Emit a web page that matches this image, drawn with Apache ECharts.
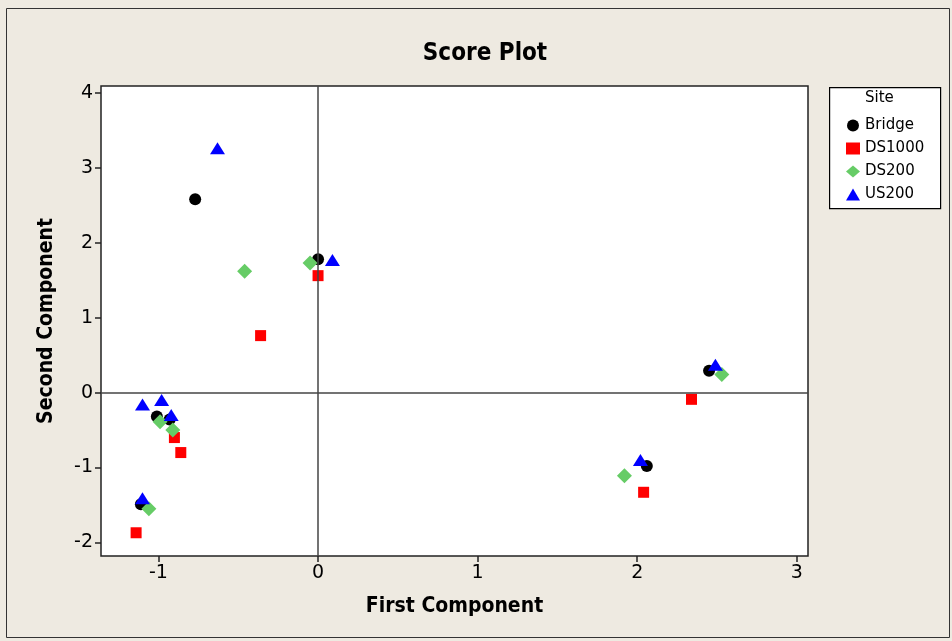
<!DOCTYPE html>
<html>
<head>
<meta charset="utf-8">
<script src="https://cdn.jsdelivr.net/npm/echarts@6/dist/echarts.min.js"></script>
<style>
html,body{margin:0;padding:0;background:#EEEAE1;}
#chart{width:952px;height:641px;}
</style>
</head>
<body>
<div id="chart"></div>
<script>
// Data (First Component, Second Component)
const bridge = [[-0.77,2.58],[0.00,1.78],[2.45,0.29],[2.06,-0.98],[-1.01,-0.32],[-0.93,-0.36],[-1.11,-1.49]];
const ds1000 = [[-0.36,0.76],[0.00,1.56],[2.34,-0.09],[2.04,-1.33],[-0.90,-0.60],[-0.86,-0.80],[-1.14,-1.87]];
const ds200  = [[-0.46,1.62],[-0.05,1.73],[2.53,0.24],[1.92,-1.11],[-0.99,-0.39],[-0.91,-0.50],[-1.06,-1.55]];
const us200  = [[-0.63,3.26],[0.09,1.77],[2.49,0.37],[2.02,-0.90],[-1.10,-0.16],[-0.98,-0.10],[-0.92,-0.30],[-1.10,-1.41]];
const xTicks = [-1,0,1,2,3];
const yTicks = [-2,-1,0,1,2,3,4];
const siteNames = ['Bridge','DS1000','DS200','US200'];

const chart = echarts.init(document.getElementById('chart'));
const tickFont = {fontFamily:'DejaVu Sans', fontSize:19, color:'#000'};
const nameFont = {fontFamily:'DejaVu Sans Condensed', fontWeight:'bold', fontSize:21, color:'#000'};

chart.setOption({
  backgroundColor:'#EEEAE1',
  animation:false,
  title:{text:'Score Plot', left:480, top:37, textAlign:'center',
    textStyle:{fontFamily:'DejaVu Sans Condensed', fontWeight:'bold', fontSize:24, color:'#000'}},
  grid:{left:101, right:144, top:86, bottom:85, show:true, backgroundColor:'#fff', borderColor:'#222', borderWidth:1.5, containLabel:false},
  xAxis:{type:'value', min:-1.36, max:3.07,
    axisLine:{show:false, onZero:false}, splitLine:{show:false},
    axisTick:{show:true, length:6, customValues:xTicks, lineStyle:{color:'#222', width:1.5}},
    axisLabel:Object.assign({margin:8, customValues:xTicks}, tickFont),
    name:'First Component', nameLocation:'middle', nameGap:40, nameTextStyle:nameFont},
  yAxis:{type:'value', min:-2.18, max:4.09,
    axisLine:{show:false, onZero:false}, splitLine:{show:false},
    axisTick:{show:true, length:6, customValues:yTicks, lineStyle:{color:'#222', width:1.5}},
    axisLabel:Object.assign({margin:8, customValues:yTicks}, tickFont),
    name:'Second Component', nameLocation:'middle', nameGap:44, nameTextStyle:nameFont},
  legend:{orient:'vertical', left:841, top:113, itemGap:8, itemWidth:14, itemHeight:12,
    data:siteNames, textStyle:{fontFamily:'DejaVu Sans', fontSize:15, color:'#000'}},
  graphic:[
    {type:'rect', left:4, top:6, shape:{width:943, height:629}, style:{fill:'none', stroke:'#333', lineWidth:1}, z:-10, silent:true},
    {type:'rect', left:829, top:87, shape:{width:111, height:121}, style:{fill:'#fff', stroke:'#000', lineWidth:1.2}, z:-1, silent:true},
    {type:'text', left:865, top:91, style:{text:'Site', fontFamily:'DejaVu Sans', fontSize:15, fill:'#000'}}
  ],
  series:[
    {name:'Bridge', type:'scatter', data:bridge, symbol:'circle', symbolSize:12, itemStyle:{color:'#000', opacity:1},
      markLine:{silent:true, symbol:'none', label:{show:false}, lineStyle:{color:'#444', width:1.5, type:'solid'},
        data:[{xAxis:0},{yAxis:0}], animation:false}},
    {name:'DS1000', type:'scatter', data:ds1000, symbol:'rect', symbolSize:11, itemStyle:{color:'#FF0000', opacity:1}},
    {name:'DS200', type:'scatter', data:ds200, symbol:'diamond', symbolSize:15, itemStyle:{color:'#66CC66', opacity:1}},
    {name:'US200', type:'scatter', data:us200, symbol:'triangle', symbolSize:[15,12], itemStyle:{color:'#0000FF', opacity:1}}
  ]
});
</script>
</body>
</html>
